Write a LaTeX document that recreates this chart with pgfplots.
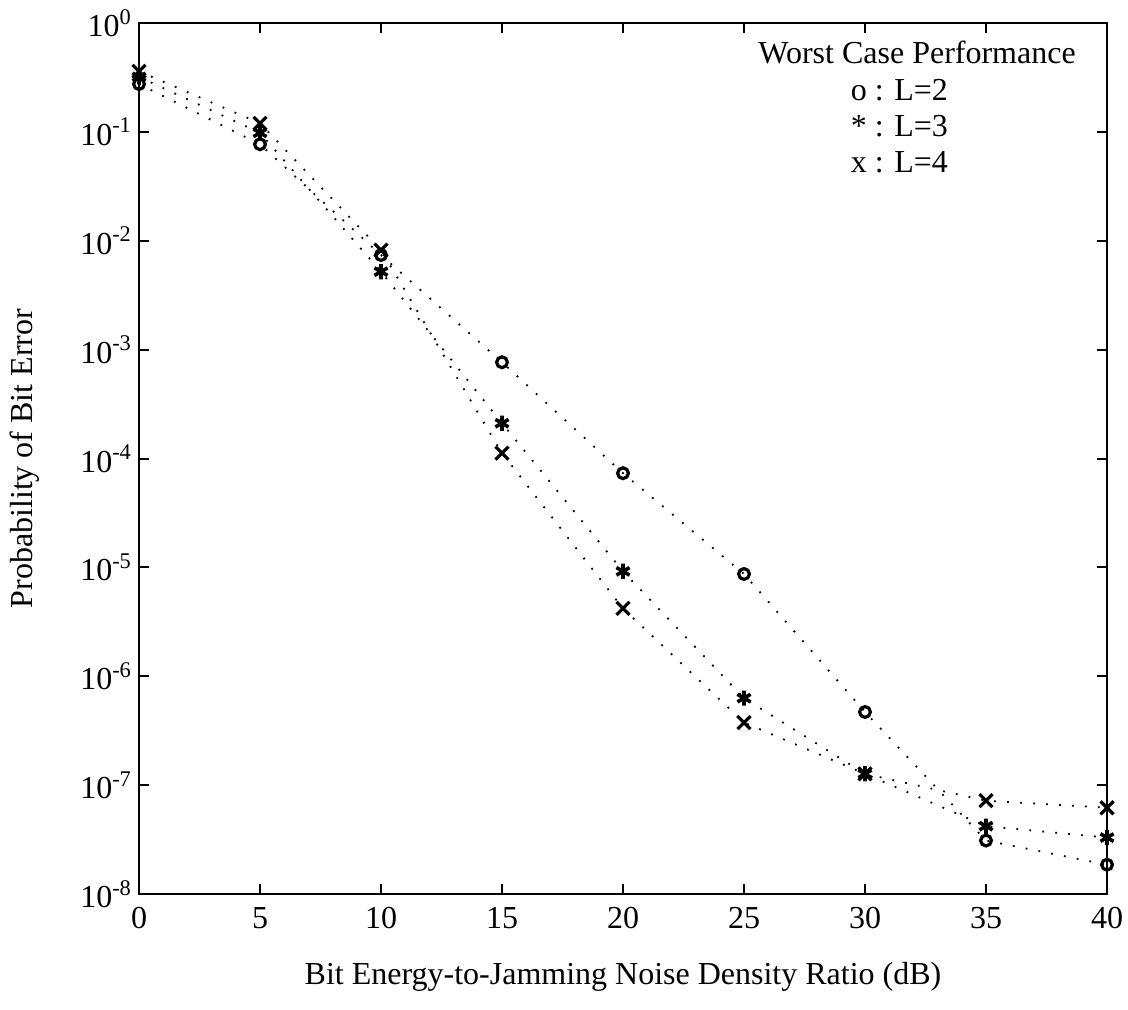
\documentclass[border=0pt]{standalone}
\usepackage{pgfplots}
\pgfplotsset{compat=1.18}
\usepackage{fontspec}
\setmainfont{Liberation Serif}

\begin{document}
\begin{tikzpicture}
\begin{axis}[
  at={(0pt,0pt)}, anchor=south west,
  scale only axis, width=484pt, height=435.5pt,
  ymode=log, xmin=0, xmax=40, ymin=1e-8, ymax=1,
  xtick={0,5,10,15,20,25,30,35,40},
  ytick={1e-8,1e-7,1e-6,1e-5,1e-4,1e-3,1e-2,1e-1,1},
  yticklabels={10\textsuperscript{-8},10\textsuperscript{-7},10\textsuperscript{-6},10\textsuperscript{-5},
               10\textsuperscript{-4},10\textsuperscript{-3},10\textsuperscript{-2},10\textsuperscript{-1},10\textsuperscript{0}},
  yminorticks=false, xminorticks=false,
  tick align=inside, major tick length=5pt,
  axis line style={line width=1.4pt},
  every tick/.style={black, line width=1pt},
  /pgf/number format/assume math mode=true,
  font=\fontsize{16}{19}\selectfont,
  xticklabel style={yshift=-3pt},
  xlabel={Bit Energy-to-Jamming Noise Density Ratio (dB)},
  ylabel={Probability of Bit Error},
  xlabel style={at={(rel axis cs:0.5,0)}, anchor=center, yshift=-41.5pt},
  ylabel style={at={(rel axis cs:0,0.5)}, anchor=center, rotate=0, yshift=57pt},
  every axis plot/.append style={black, line width=0.9pt, dash pattern=on 0.9pt off 5.6pt},
  clip=false,
]
% L = 2
\addplot[mark=o, mark size=2.7pt, mark options={solid, line width=1.6pt}] coordinates {
  (0,0.275) (5,0.077) (10,0.0074) (15,7.66e-4) (20,7.33e-5) (25,8.7e-6) (30,4.7e-7) (35,3.1e-8) (40,1.86e-8)
};
% L = 3
\addplot[mark=asterisk, mark size=3.8pt, mark options={solid, line width=1.8pt}] coordinates {
  (0,0.32) (5,0.098) (10,0.0052) (15,2.11e-4) (20,9.2e-6) (25,6.3e-7) (30,1.27e-7) (35,4.2e-8) (40,3.3e-8)
};
% L = 4
\addplot[mark=x, mark size=4.6pt, mark options={solid, line width=1.6pt}] coordinates {
  (0,0.36) (5,0.12) (10,0.0082) (15,1.12e-4) (20,4.2e-6) (25,3.76e-7) (30,1.27e-7) (35,7.2e-8) (40,6.2e-8)
};
\node[anchor=east] at (rel axis cs:0.975,0.966) {Worst Case Performance};
\node[anchor=east] at (rel axis cs:0.843,0.923) {o : L=2};
\node[anchor=east] at (rel axis cs:0.843,0.882) {* : L=3};
\node[anchor=east] at (rel axis cs:0.843,0.840) {x : L=4};
\end{axis}
\pgfresetboundingbox
\path (-69.5pt,-57.5pt) rectangle (494.5pt,447pt);
\end{tikzpicture}
\end{document}
